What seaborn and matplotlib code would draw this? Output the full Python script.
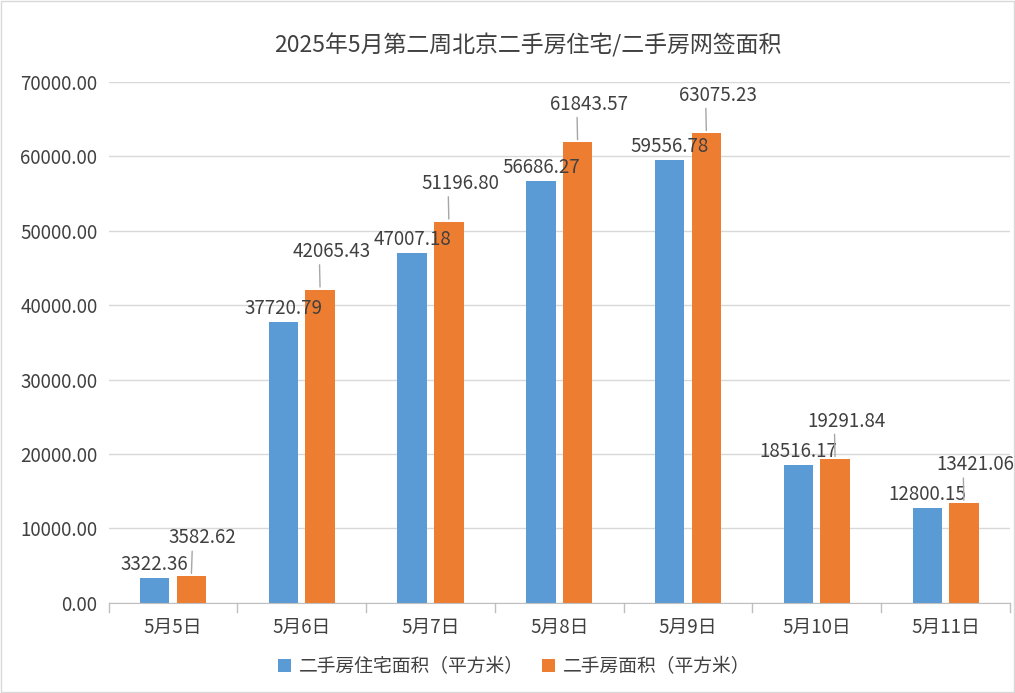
import matplotlib
matplotlib.use("Agg")
import matplotlib.pyplot as plt
from matplotlib import font_manager
import seaborn as sns
import pandas as pd
import numpy as np

categories = ["5月5日", "5月6日", "5月7日", "5月8日", "5月9日", "5月10日", "5月11日"]
residential = [3322.36, 37720.79, 47007.18, 56686.27, 59556.78, 18516.17, 12800.15]
total = [3582.62, 42065.43, 51196.80, 61843.57, 63075.23, 19291.84, 13421.06]
series_names = ["二手房住宅面积（平方米）", "二手房面积（平方米）"]
yticks = [0, 10000, 20000, 30000, 40000, 50000, 60000, 70000]

names = sorted({f.name for f in font_manager.fontManager.ttflist})
pref = ["Noto Sans CJK SC", "Noto Sans CJK JP", "Noto Sans CJK TC", "Noto Sans CJK KR"]
fam = next((p for p in pref if p in names), None)
if fam is None:
    fam = next((n for n in names if "Sans CJK" in n), "DejaVu Sans")
plt.rcParams["font.family"] = "sans-serif"
plt.rcParams["font.sans-serif"] = [fam, "DejaVu Sans"]

df = pd.DataFrame({
    "date": categories * 2,
    "value": residential + total,
    "series": [series_names[0]] * 7 + [series_names[1]] * 7,
})

fig = plt.figure(figsize=(10.15, 6.93), dpi=100)
ax = fig.add_axes([0.107, 0.13, 0.888, 0.752])
colors = ["#5B9BD5", "#ED7D31"]
sns.barplot(data=df, x="date", y="value", hue="series", palette=colors,
            width=0.57, gap=0.2, ax=ax, saturation=1)

ax.set_ylim(0, 70000)
ax.set_yticks(yticks)
ax.set_yticklabels([f"{v:.2f}" for v in yticks], fontsize=13.5, color="#404040")
ax.tick_params(axis="x", labelsize=13.5, colors="#404040", length=0, pad=10)
ax.tick_params(axis="y", length=0, pad=8)
ax.set_xlabel("")
ax.set_ylabel("")
ax.set_xlim(-0.5, 6.5)
ax.grid(axis="y", color="#D9D9D9", linewidth=1)
ax.set_axisbelow(True)
for s in ["top", "right", "left"]:
    ax.spines[s].set_visible(False)
ax.spines["bottom"].set_color("#BFBFBF")
for b in np.arange(-0.5, 7, 1):
    ax.plot([b, b], [0, -1200], color="#BFBFBF", lw=1, clip_on=False)

for i, cont in enumerate(ax.containers):
    for bar, v in zip(cont, [residential, total][i]):
        x = bar.get_x() + bar.get_width() / 2
        h = bar.get_height()
        if i == 0:
            ax.annotate(f"{v:.2f}", (x, h), xytext=(0, 2), textcoords="offset points",
                        ha="center", va="bottom", fontsize=13.5, color="#404040")
        else:
            ax.annotate(f"{v:.2f}", (x, h), xytext=(8, 20), textcoords="offset points",
                        ha="center", va="bottom", fontsize=13.5, color="#404040",
                        arrowprops=dict(arrowstyle="-", color="#A6A6A6", lw=1,
                                        shrinkA=0, shrinkB=2, relpos=(0.35, 0)))

leg = ax.legend(loc="upper center", bbox_to_anchor=(0.45, -0.07), ncol=2, frameon=False,
                fontsize=13.5, handlelength=0.7, handleheight=0.7, columnspacing=1.0,
                handletextpad=0.4)
for t in leg.get_texts():
    t.set_color("#404040")

fig.text(0.52, 0.935, "2025年5月第二周北京二手房住宅/二手房网签面积", ha="center", va="center",
         fontsize=16.5, color="#404040")
fig.patches.append(plt.Rectangle((0.001, 0.001), 0.998, 0.998, transform=fig.transFigure,
                                 fill=False, edgecolor="#D9D9D9", lw=1))
fig.savefig("out.png", dpi=100, facecolor="white")
